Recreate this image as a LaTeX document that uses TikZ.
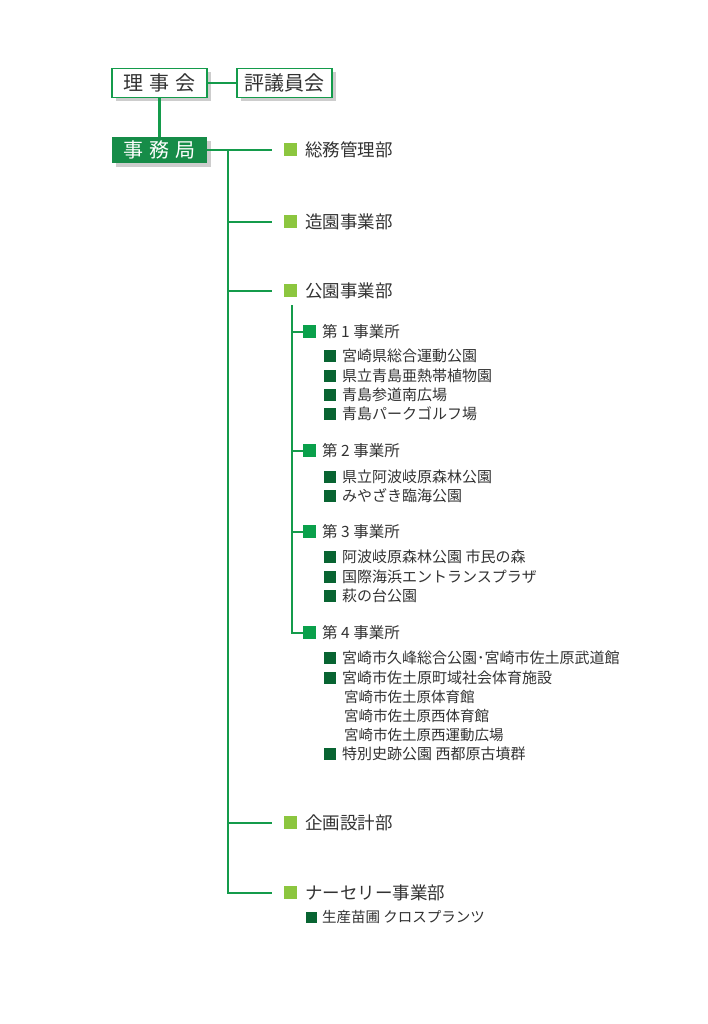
\documentclass[tikz,border=0pt]{standalone}
\usepackage{fontspec}
\setmainfont{Noto Sans CJK JP}
\usetikzlibrary{shadows}
\definecolor{lngreen}{RGB}{20,155,75}
\definecolor{boxfill}{RGB}{22,140,72}
\definecolor{sqlight}{RGB}{140,198,63}
\definecolor{sqmid}{RGB}{10,160,75}
\definecolor{sqdark}{RGB}{8,100,50}
\definecolor{txt}{RGB}{50,50,50}
\definecolor{shade}{RGB}{205,205,205}
\newcommand\mysq[3]{\textcolor{#1}{\rule[#3]{#2}{#2}}}
\tikzset{
  ln/.style={draw=lngreen, line width=2.8pt},
  gap/.style={shorten >=12pt},
  topbox/.style={draw=lngreen, line width=1.8pt, fill=white, minimum width=95pt, minimum height=29pt, inner sep=0pt, text=txt, font=\fontsize{20}{22}\selectfont,
    drop shadow={shadow xshift=4pt, shadow yshift=-4pt, fill=shade, opacity=1}},
  jimubox/.style={fill=boxfill, minimum width=95pt, minimum height=26pt, inner sep=0pt, text=white, font=\fontsize{20}{22}\selectfont,
    drop shadow={shadow xshift=4pt, shadow yshift=-4pt, fill=shade, opacity=1}},
  dept/.style={anchor=west, inner sep=0pt, text=txt, font=\fontsize{17.5}{20}\selectfont},
  office/.style={anchor=west, inner sep=0pt, text=txt, font=\fontsize{15.5}{18}\selectfont},
  item/.style={anchor=west, inner sep=0pt, text=txt, font=\fontsize{15}{18}\selectfont},
  subitem/.style={anchor=west, inner sep=0pt, text=txt, font=\fontsize{14.5}{17}\selectfont},
}
\begin{document}
\begin{tikzpicture}[x=1pt,y=-1pt]
\useasboundingbox (0,0) rectangle (707,1024);
% top boxes
\node[topbox] (riji) at (159.5,83) {理\hspace{6pt}事\hspace{6pt}会};
\node[topbox] (hyogi) at (284.5,83) {評議員会};
\node[jimubox] (jimu) at (159.5,150) {事\hspace{6pt}務\hspace{6pt}局};
\draw[ln] (riji.east) -- (hyogi.west);
\draw[ln] (riji.south) -- (jimu.north);
% departments
\node[dept] (d1) at (284,150) {\mysq{sqlight}{13pt}{0.5pt}\hspace{8pt}総務管理部};
\node[dept] (d2) at (284,222) {\mysq{sqlight}{13pt}{0.5pt}\hspace{8pt}造園事業部};
\node[dept] (d3) at (284,291) {\mysq{sqlight}{13pt}{0.5pt}\hspace{8pt}公園事業部};
\node[dept] (d4) at (284,823) {\mysq{sqlight}{13pt}{0.5pt}\hspace{8pt}企画設計部};
\node[dept] (d5) at (284,893) {\mysq{sqlight}{13pt}{0.5pt}\hspace{8pt}ナーセリー事業部};
\coordinate (tr) at (228,150);
\draw[ln,gap] (jimu.east) -- (d1.west);
\draw[ln,gap] (tr) |- (d5.west);
\draw[ln,gap] (d2.west -| tr) -- (d2.west);
\draw[ln,gap] (d3.west -| tr) -- (d3.west);
\draw[ln,gap] (d4.west -| tr) -- (d4.west);
% offices
\node[office] (o1) at (303,332) {\mysq{sqmid}{13pt}{-0.5pt}\hspace{6pt}第 1 事業所};
\node[office] (o2) at (303,451) {\mysq{sqmid}{13pt}{-0.5pt}\hspace{6pt}第 2 事業所};
\node[office] (o3) at (303,532) {\mysq{sqmid}{13pt}{-0.5pt}\hspace{6pt}第 3 事業所};
\node[office] (o4) at (303,633) {\mysq{sqmid}{13pt}{-0.5pt}\hspace{6pt}第 4 事業所};
\coordinate (st) at (292,305);
\draw[ln] (st) |- (o4.west);
\draw[ln] (o1.west -| st) -- (o1.west);
\draw[ln] (o2.west -| st) -- (o2.west);
\draw[ln] (o3.west -| st) -- (o3.west);
% items
\node[item] (i11) at (324,356) {\mysq{sqdark}{12pt}{-0.3pt}\hspace{6pt}宮崎県総合運動公園};
\node[item] (i12) at (324,376) {\mysq{sqdark}{12pt}{-0.3pt}\hspace{6pt}県立青島亜熱帯植物園};
\node[item] (i13) at (324,395) {\mysq{sqdark}{12pt}{-0.3pt}\hspace{6pt}青島参道南広場};
\node[item] (i14) at (324,414) {\mysq{sqdark}{12pt}{-0.3pt}\hspace{6pt}青島パークゴルフ場};
\node[item] (i21) at (324,477) {\mysq{sqdark}{12pt}{-0.3pt}\hspace{6pt}県立阿波岐原森林公園};
\node[item] (i22) at (324,496) {\mysq{sqdark}{12pt}{-0.3pt}\hspace{6pt}みやざき臨海公園};
\node[item] (i31) at (324,557) {\mysq{sqdark}{12pt}{-0.3pt}\hspace{6pt}阿波岐原森林公園 市民の森};
\node[item] (i32) at (324,577) {\mysq{sqdark}{12pt}{-0.3pt}\hspace{6pt}国際海浜エントランスプラザ};
\node[item] (i33) at (324,596) {\mysq{sqdark}{12pt}{-0.3pt}\hspace{6pt}萩の台公園};
\node[item] (i41) at (324,658) {\mysq{sqdark}{12pt}{-0.3pt}\hspace{6pt}宮崎市久峰総合公園･宮崎市佐土原武道館};
\node[item] (i42) at (324,678) {\mysq{sqdark}{12pt}{-0.3pt}\hspace{6pt}宮崎市佐土原町域社会体育施設};
\node[subitem] (p1) at (344,697) {宮崎市佐土原体育館};
\node[subitem] (p2) at (344,716) {宮崎市佐土原西体育館};
\node[subitem] (p3) at (344,735) {宮崎市佐土原西運動広場};
\node[item] (i43) at (324,754) {\mysq{sqdark}{12pt}{-0.3pt}\hspace{6pt}特別史跡公園 西都原古墳群};
% nursery
\node[subitem] (n1) at (306,917) {\mysq{sqdark}{11pt}{0pt}\hspace{5pt}生産苗圃 クロスプランツ};
\end{tikzpicture}
\end{document}
